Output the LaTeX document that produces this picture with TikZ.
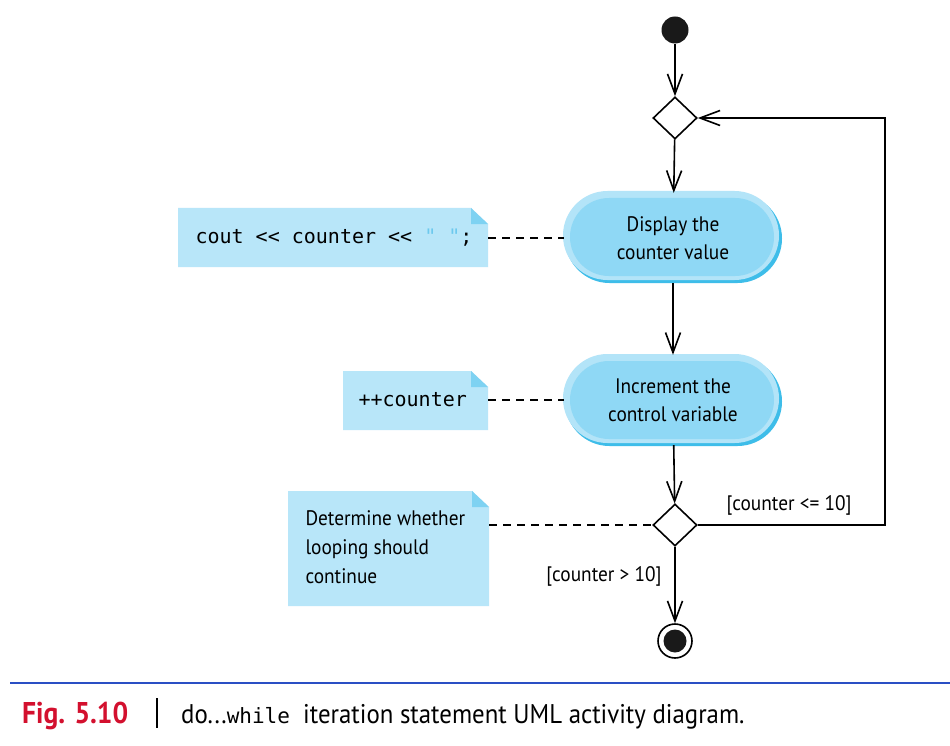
\documentclass[tikz,border=0pt]{standalone}
\usepackage{fontspec}
\setmainfont{PT Sans}[FakeStretch=0.92]
\setmonofont{DejaVu Sans Mono}
\usetikzlibrary{arrows.meta,calc,shapes.geometric}
\definecolor{notefill}{HTML}{B8E6F9}
\definecolor{noteear}{HTML}{7ED2F2}
\definecolor{pilldark}{HTML}{3EBDE9}
\definecolor{pilllight}{HTML}{B3E4F8}
\definecolor{pillin}{HTML}{8FD8F5}
\definecolor{quotec}{HTML}{6CC9EE}
\definecolor{capblue}{HTML}{2A4FC4}
\definecolor{capred}{HTML}{D3102E}
\begin{document}
\begin{tikzpicture}[x=1pt,y=-1pt,
  flow/.style={line width=1.6pt,-{Straight Barb[length=20pt,width=15pt,line width=1.6pt]}},
  link/.style={line width=1.4pt,dashed,dash pattern=on 8pt off 6pt},
  dec/.style={draw,line width=1.6pt,diamond,minimum width=44pt,minimum height=42pt,inner sep=0pt},
  anchorbox/.style={rectangle,minimum width=217pt,minimum height=90pt,inner sep=0pt},
  lbl/.style={font=\fontsize{21}{28}\selectfont,align=center},
  code/.style={font=\ttfamily\fontsize{20}{22}\selectfont},
  guard/.style={font=\fontsize{21}{24}\selectfont}]
\useasboundingbox (0,0) rectangle (950,746);
\fill[white] (0,0) rectangle (950,746);

% notes
\newcommand{\mynote}[4]{%
  \fill[notefill] (#1,#2) -- ({#3-17},#2) -- (#3,{#2+16}) -- (#3,#4) -- (#1,#4) -- cycle;
  \fill[noteear] ({#3-17},#2) -- (#3,{#2+16}) -- ({#3-17},{#2+16}) -- cycle;}
\mynote{178}{208}{488}{267}
\mynote{343}{371}{488}{430}
\mynote{288}{491}{489}{606}
\node[anchor=east,inner sep=0pt,minimum height=59pt] (n1) at (488,238) {};
\node[code,anchor=west] at (192,238) {cout << counter << \textcolor{quotec}{"~"};};
\node[anchor=east,inner sep=0pt,minimum height=59pt] (n2) at (488,400) {};
\node[code,anchor=west] at (355,400) {++counter};
\node[anchor=east,inner sep=0pt,minimum height=115pt] (n3) at (489,525) {};
\node[anchor=north west,align=left,font=\fontsize{21}{29}\selectfont] at (302,507)
  {Determine whether\\looping should\\continue};

% pills
\newcommand{\mypill}[2]{%
  \fill[pilldark,rounded corners=44.5pt] ({#1-107},{#2-43}) rectangle ({#1+110},{#2+46});
  \fill[pilllight,rounded corners=44.5pt] ({#1-109},{#2-46}) rectangle ({#1+107},{#2+43});
  \fill[pillin,rounded corners=39pt] ({#1-102},{#2-39}) rectangle ({#1+102},{#2+39});}
\mypill{672}{237}
\mypill{672}{400}
\node[anchorbox,lbl] (a1) at (673,238) {Display the\\counter value};
\node[anchorbox,lbl] (a2) at (673,400) {Increment the\\control variable};

% start, decisions, end
\node[circle,fill=black!90,minimum size=27pt,inner sep=0pt] (s) at (675,30) {};
\node[dec] (d1) at (675,118) {};
\node[dec] (d2) at (675,525) {};
\node[circle,draw,line width=1.6pt,minimum size=34pt,inner sep=0pt] (e) at (675,641) {};
\node[circle,fill=black!90,minimum size=23pt,inner sep=0pt] at (e) {};

% flows
\draw[flow] (s) -- (d1);
\draw[flow] (d1) -- (a1);
\draw[flow] (a1) -- (a2);
\draw[flow] (a2) -- (d2);
\draw[flow] (d2) -- (e);
\coordinate (c1) at (885,525);
\coordinate (c2) at (885,118);
\draw[flow] (d2.east) -- (c1) -- (c2) -- (d1.east);
\node[guard,anchor=south] at (789,519) {[counter <= 10]};
\node[guard,anchor=east] at (665,576) {[counter > 10]};

% note links
\draw[link] (n1.east) -- (a1.west);
\draw[link] (n2.east) -- (a2.west);
\draw[link] (n3.east) -- (d2.west);

% caption
\draw[capblue,line width=1.8pt] (10,683) -- (950,683);
\node[anchor=base west,inner sep=0pt,text=capred,font=\bfseries\fontsize{30}{34}\selectfont] at (22,723) {Fig. 5.10};
\draw[line width=1.2pt] (157,698) -- (157,728);
\node[anchor=base west,inner sep=0pt,font=\fontsize{27}{30}\selectfont] at (181,723)
  {do...{\ttfamily\fontsize{21}{26}\selectfont while}\ \ iteration statement UML activity diagram.};
\end{tikzpicture}
\end{document}
